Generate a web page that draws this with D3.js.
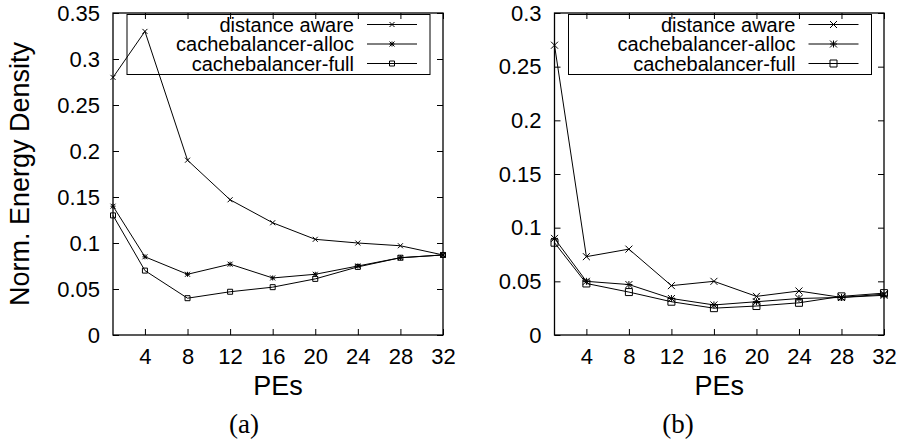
<!DOCTYPE html>
<html>
<head>
<meta charset="utf-8">
<script src="https://cdn.jsdelivr.net/npm/d3@7"></script>
<style>
  body { margin: 0; background: #fff; }
  svg { display: block; }
  text { font-family: "Liberation Sans", Arial, Helvetica, sans-serif; fill: #000; }
</style>
</head>
<body>
<div id="graph"></div>
<script>
!(function(){
    "use strict"

    // data
    var pes = [1, 4, 8, 12, 16, 20, 24, 28, 32];
    var xTicks = [4, 8, 12, 16, 20, 24, 28, 32];
    var seriesNames = ["distance aware", "cachebalancer-alloc", "cachebalancer-full"];

    var aDist  = [0.280, 0.330, 0.190, 0.147, 0.122, 0.104, 0.100, 0.097, 0.087];
    var aAlloc = [0.140, 0.085, 0.066, 0.077, 0.062, 0.066, 0.075, 0.084, 0.087];
    var aFull  = [0.130, 0.070, 0.040, 0.047, 0.052, 0.061, 0.074, 0.084, 0.087];
    var aTicks = [0, 0.05, 0.1, 0.15, 0.2, 0.25, 0.3, 0.35];

    var bDist  = [0.270, 0.073, 0.080, 0.046, 0.050, 0.036, 0.041, 0.035, 0.038];
    var bAlloc = [0.090, 0.050, 0.047, 0.034, 0.028, 0.031, 0.034, 0.035, 0.037];
    var bFull  = [0.086, 0.048, 0.040, 0.031, 0.025, 0.027, 0.030, 0.036, 0.039];
    var bTicks = [0, 0.05, 0.1, 0.15, 0.2, 0.25, 0.3];

    var width = 903, height = 447;

    var svg = d3.select("#graph").append("svg")
        .attr("width", width)
        .attr("height", height);

    // gnuplot style point types: x, *, open square
    function marker(type, s) {
        if (type === 0) return "M" + (-s) + "," + (-s) + "L" + s + "," + s + "M" + (-s) + "," + s + "L" + s + "," + (-s);
        if (type === 1) return "M" + (-s) + "," + (-s) + "L" + s + "," + s + "M" + (-s) + "," + s + "L" + s + "," + (-s) +
            "M" + (-s) + ",0L" + s + ",0M0," + (-s) + "L0," + s;
        return "M" + (-s) + "," + (-s) + "H" + s + "V" + s + "H" + (-s) + "Z";
    }

    function drawPanel(o) {
        var x = d3.scaleLinear().domain([1, 32]).range([o.x0, o.x1]);
        var y = d3.scaleLinear().domain([0, o.ymax]).range([o.y0, o.y1]);
        var fmt = d3.format("~g");
        var g = svg.append("g");

        // inward ticks on all four sides
        var bottom = g.append("g").attr("transform", "translate(0," + o.y0 + ")")
            .call(d3.axisBottom(x).tickValues(xTicks).tickSizeInner(-6).tickSizeOuter(0).tickPadding(13).tickFormat(fmt));
        var top = g.append("g").attr("transform", "translate(0," + o.y1 + ")")
            .call(d3.axisTop(x).tickValues(xTicks).tickSizeInner(-6).tickSizeOuter(0).tickFormat(""));
        var left = g.append("g").attr("transform", "translate(" + o.x0 + ",0)")
            .call(d3.axisLeft(y).tickValues(o.ticks).tickSizeInner(-6).tickSizeOuter(0).tickPadding(13).tickFormat(fmt));
        var right = g.append("g").attr("transform", "translate(" + o.x1 + ",0)")
            .call(d3.axisRight(y).tickValues(o.ticks).tickSizeInner(-6).tickSizeOuter(0).tickFormat(""));

        [bottom, top, left, right].forEach(function(a){
            a.select(".domain").remove();
            a.selectAll(".tick line").attr("stroke", "#000");
            a.selectAll("text").style("font-size", "22px").attr("font-family", null);
        });

        g.append("rect")
            .attr("x", o.x0).attr("y", o.y1)
            .attr("width", o.x1 - o.x0).attr("height", o.y0 - o.y1)
            .attr("fill", "none").attr("stroke", "#000").attr("stroke-width", 1.3);

        var line = d3.line()
            .x(function(d, i){ return x(pes[i]); })
            .y(function(d){ return y(d); });

        o.series.forEach(function(s, k) {
            g.append("path").datum(s)
                .attr("d", line)
                .attr("fill", "none").attr("stroke", "#000").attr("stroke-width", 1);
            g.selectAll(".m" + k).data(s).enter().append("path")
                .attr("transform", function(d, i){ return "translate(" + x(pes[i]) + "," + y(d) + ")"; })
                .attr("d", marker(k, o.ms))
                .attr("fill", "none").attr("stroke", "#000").attr("stroke-width", 1);
        });

        // legend
        var lx = o.x0 + 14, ly = 14.5;
        g.append("rect")
            .attr("x", lx).attr("y", ly).attr("width", 303).attr("height", 60)
            .attr("fill", "none").attr("stroke", "#000").attr("stroke-width", 1);
        seriesNames.forEach(function(n, k) {
            var ry = 24.5 + k * 19.5;
            g.append("text")
                .attr("x", lx + 227).attr("y", ry)
                .attr("text-anchor", "end").attr("dy", "0.35em")
                .style("font-size", "20px")
                .text(n);
            g.append("line")
                .attr("x1", lx + 240).attr("x2", lx + 290)
                .attr("y1", ry).attr("y2", ry)
                .attr("stroke", "#000").attr("stroke-width", 1);
            g.append("path")
                .attr("transform", "translate(" + (lx + 265) + "," + ry + ")")
                .attr("d", marker(k, o.ms))
                .attr("fill", "none").attr("stroke", "#000").attr("stroke-width", 1);
        });

        g.append("text")
            .attr("x", (o.x0 + o.x1) / 2).attr("y", 395)
            .attr("text-anchor", "middle")
            .style("font-size", "27px")
            .text("PEs");

        g.append("text")
            .attr("x", o.capX).attr("y", 433)
            .attr("text-anchor", "middle")
            .style("font-family", "'Liberation Serif', 'Times New Roman', serif")
            .style("font-size", "27px")
            .text(o.caption);
    }

    drawPanel({ x0: 113, x1: 443, y0: 335, y1: 13, ymax: 0.35, ticks: aTicks,
        series: [aDist, aAlloc, aFull], ms: 2.5, caption: "(a)", capX: 244 });
    drawPanel({ x0: 554.5, x1: 884, y0: 335, y1: 13, ymax: 0.3, ticks: bTicks,
        series: [bDist, bAlloc, bFull], ms: 3.5, caption: "(b)", capX: 678 });

    svg.append("text")
        .attr("transform", "translate(29,174) rotate(-90)")
        .attr("text-anchor", "middle")
        .style("font-size", "27px")
        .text("Norm. Energy Density");
}());
</script>
</body>
</html>
